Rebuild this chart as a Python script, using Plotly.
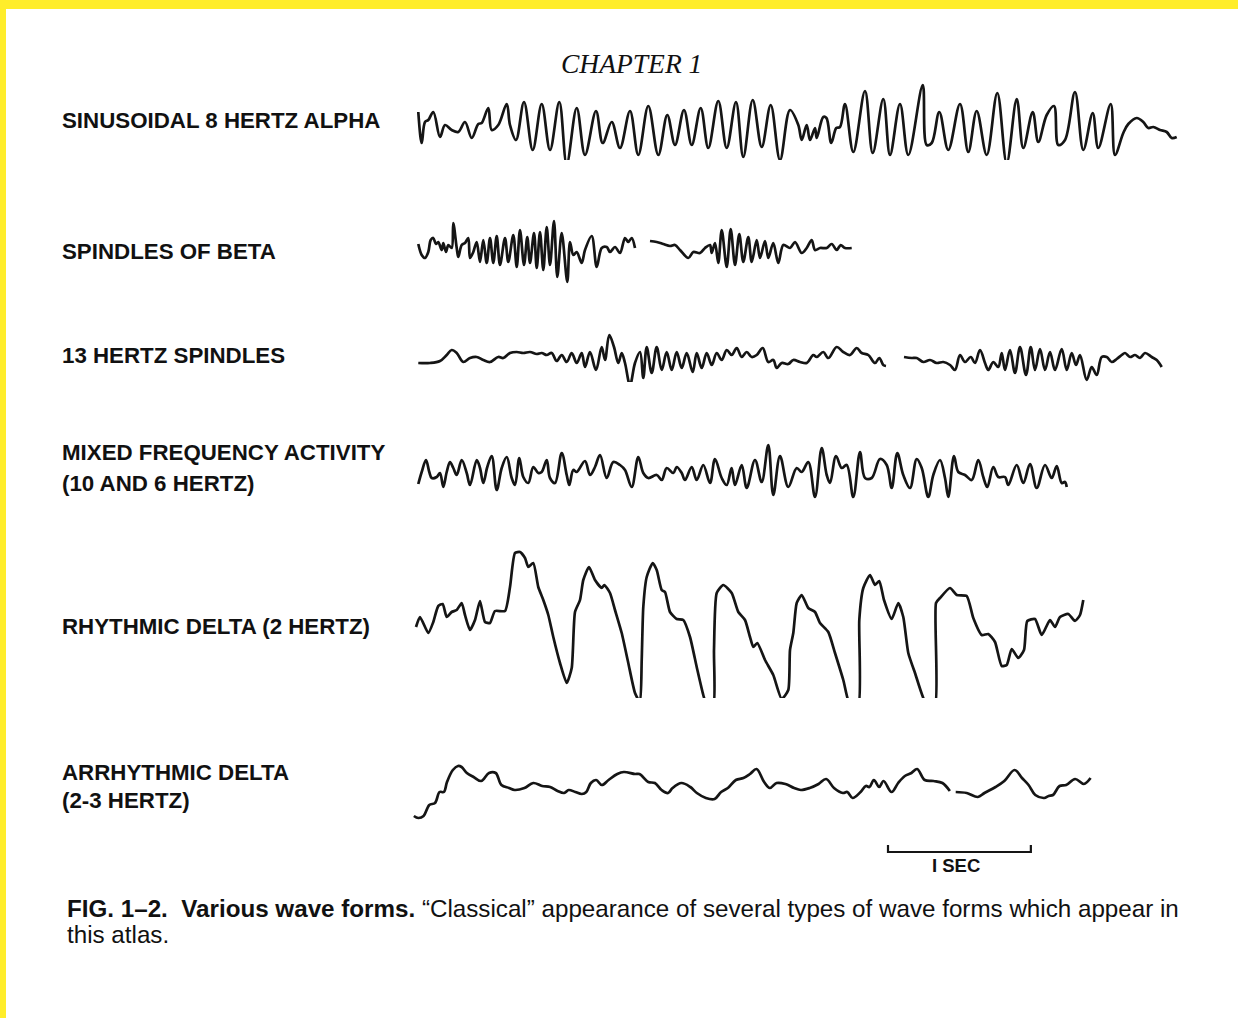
import plotly.graph_objects as go

# ---------------- data (time in ms from trace start, amplitude in arbitrary units, up = positive) -------------
alpha_t = [2, 26, 49, 72, 107, 154, 189, 236, 282, 329, 376, 422, 446, 492, 516, 562, 621, 644, 686, 742,
           803, 866, 924, 989, 1041, 1111, 1169, 1246, 1293, 1356, 1414, 1484, 1542, 1612, 1682, 1745, 1799,
           1862, 1916, 1979, 2032, 2102, 2161, 2226, 2277, 2343, 2406, 2469, 2534, 2604, 2662, 2686, 2721,
           2744, 2779, 2791, 2837, 2859, 2893, 2928, 2954, 2989, 3047, 3129, 3183, 3257, 3304, 3374, 3432,
           3533, 3561, 3596, 3649, 3712, 3794, 3852, 3911, 3981, 4055, 4121, 4191, 4237, 4303, 4342, 4401,
           4452, 4482, 4529, 4599, 4657, 4723, 4762, 4849, 4879, 4937, 4972, 5031, 5077, 5112, 5147, 5194,
           5241, 5276, 5311]
alpha_v = [16, -15, 6, 8, 16, -9, 3, -2, -4, 6, -10, 4, 5, 20, -2, 3, 24, 3, -12, 26,
           -22, 24, -22, 26, -36, 20, -27, 17, -15, 6, -20, 17, -27, 22, -27, 13, -17,
           18, -17, 20, -20, 27, -20, 26, -29, 28, -19, 23, -32, 18, 3, -12, 3,
           -12, 0, -10, 11, 10, -15, 0, 1, 24, -24, 37, -25, 29, -27, 24, -27,
           43, -17, -15, 16, -22, 24, -24, 17, -27, 35, -35, 29, -20, 16, -14, 13,
           22, -17, -12, 36, -22, 15, -20, 24, -27, -5, 4, 10, 6, 0, 1, -2,
           -4, -10, -9]

beta_t = [2, 26, 49, 72, 89, 107, 126, 142, 166, 177, 196, 212, 236, 247, 271, 282, 306, 329, 352, 364,
          387, 411, 434, 457, 481, 504, 527, 551, 574, 609, 632, 667, 691, 714, 742, 765, 784, 812, 831,
          854, 877, 901, 924, 952, 975, 1006, 1045, 1064, 1087, 1111, 1146, 1169, 1216, 1251, 1286, 1321,
          1344, 1379, 1414, 1449, 1472, 1496, 1519, None,
          1624, 1671, 1717, 1764, 1799, 1834, 1892, 1927, 1974, 2009, 2044, 2056, 2079, 2102, 2126, 2161,
          2189, 2219, 2249, 2277, 2312, 2336, 2371, 2394, 2429, 2452, 2487, 2522, 2557, 2604, 2639, 2686,
          2721, 2756, 2779, 2814, 2861, 2896, 2931, 2959, 2989, 3036]
beta_v = [6, -5, -8, -2, 10, 12, 6, 8, 0, 7, -2, 5, 2, 27, 2, -7, 5, 7, 12, -8,
          -2, 8, -12, 10, -13, 12, -13, 14, -15, 12, -12, 15, -17, 20, -15, 13, -13, 17, -18,
          18, -20, 23, -15, 29, -27, 17, -32, 8, -5, -2, -13, 0, 14, -17, 2, 3,
          -2, 3, -3, 12, 8, 12, 2, None,
          9, 8, 6, 4, 5, 0, -8, -2, -3, 2, 5, -3, 7, -13, 20, -17,
          21, -15, 16, -12, 13, -12, 10, -8, 9, -8, 7, -13, 5, 2, 8, -3,
          2, 10, 0, 2, 2, 6, 0, 5, 2, 2]

spin13_t = [2, 84, 154, 201, 236, 271, 317, 364, 411, 457, 504, 562, 597, 644, 691, 737, 784, 831, 866,
            901, 936, 971, 1006, 1041, 1076, 1111, 1146, 1169, 1204, 1246, 1286, 1309, 1339, 1372, 1402,
            1426, 1449, 1484, 1519, 1554, 1577, 1601, 1636, 1671, 1706, 1741, 1776, 1811, 1846, 1881, 1923,
            1951, 1986, 2021, 2056, 2091, 2126, 2161, 2196, 2231, 2266, 2301, 2336, 2371, 2413, 2452, 2487,
            2511, 2546, 2592, 2627, 2674, 2721, 2767, 2791, 2837, 2872, 2931, 2977, 3024, 3071, 3106, 3152,
            3199, 3229, 3257, 3276, None,
            3402, 3456, 3491, 3537, 3584, 3631, 3677, 3724, 3759, 3794, 3829, 3869, 3899, 3934, 3969, 3992,
            4027, 4062, 4086, 4109, 4144, 4179, 4214, 4256, 4289, 4319, 4354, 4389, 4424, 4459, 4506, 4541,
            4576, 4606, 4634, 4681, 4716, 4751, 4786, 4821, 4856, 4891, 4926, 4949, 4984, 5019, 5054, 5089,
            5136, 5171, 5206]
spin13_v = [-3, -3, -1, 5, 10, 7, -2, 2, 3, 0, -2, 3, 2, 7, 8, 7, 8, 6, 7,
            5, 7, -1, 5, -2, 7, -3, 7, -7, 8, -10, 13, 0, 25, 13, -3,
            7, -3, -25, -3, 8, -18, 13, -13, 13, -10, 8, -10, 8, -8, 7, -12,
            7, -8, 7, -5, 7, 0, 10, 5, 12, 3, 8, 3, 5, 12, -2, 0,
            -8, -3, -4, 0, -2, -3, 5, 3, 8, 2, 13, 8, 5, 12, 7, 5,
            -3, 2, -5, -6, None,
            3, 2, 2, -2, 0, -3, -2, -5, -10, 5, -2, 3, -3, 10, -3, -10,
            -2, -7, 7, -10, 10, -13, 13, -15, 13, -10, 11, -10, 8, -10, 11, -10,
            7, -5, 5, -20, -7, -15, 3, 3, -2, 1, 5, 7, 3, 5, 2, 7,
            3, 0, -7]

mixed_t = [2, 26, 56, 79, 96, 131, 154, 177, 201, 224, 247, 271, 306, 341, 364, 411, 434, 457, 485, 516,
           551, 586, 621, 656, 679, 709, 737, 772, 807, 842, 866, 901, 924, 959, 1006, 1041, 1059, 1087,
           1111, 1169, 1204, 1239, 1274, 1321, 1367, 1414, 1449, 1496, 1542, 1577, 1612, 1671, 1706, 1741,
           1787, 1811, 1846, 1869, 1916, 1951, 1997, 2044, 2079, 2126, 2161, 2195, 2219, 2266, 2301, 2359,
           2406, 2452, 2487, 2534, 2592, 2651, 2686, 2732, 2779, 2826, 2861, 2884, 2926, 2966, 3001, 3047,
           3094, 3129, 3176, 3234, 3281, 3316, 3355, 3397, 3444, 3491, 3526, 3572, 3607, 3654, 3689, 3712,
           3752, 3782, 3829, 3876, 3922, 3957, 3985, 4027, 4062, 4109, 4132, 4191, 4237, 4284, 4331, 4389,
           4436, 4471, 4506, 4529, 4541]
mixed_v = [-12, 0, 12, 0, -6, -5, -1, -15, 0, 10, 4, -3, 12, -1, -13, 12, 4, -11, 5, 16,
           -18, 4, 15, -6, -13, 14, -5, -11, 5, -1, 0, 12, -6, -11, 19, -3, -13, 2,
           0, 11, -3, 5, 17, -6, 10, 7, 2, -15, 15, -1, -6, -3, -8, 4,
           -1, 5, -1, -8, 5, -8, 7, -11, 13, -6, -13, 4, -13, 7, -16, 12,
           -10, 27, -23, 16, -15, 4, 0, 10, -25, 24, -3, -11, 16, 4, 7, -25,
           20, -6, -6, 13, 7, -16, 19, -3, -16, 13, 4, -25, -3, 12, -6, -25,
           16, 0, -3, -8, 12, -5, -15, 5, -5, -5, -13, 7, -11, 8, -16, 7,
           -6, 6, -11, -10, -15]

rdelta_t = [-14, 14, 72, 107, 142, 173, 201, 236, 271, 306, 329, 364, 399, 434, 469, 504, 539, 609, 644, 679,
            714, 749, 772, 807, 842, 877, 912, 947, 994, 1041, 1076, 1099, 1134, 1157, 1197, 1239, 1286,
            1304, 1344, 1379, 1426, 1472, 1519, 1554, 1566, 1577, 1601, 1643, 1671, 1706, 1729, 1764, 1811,
            1857, 1904, 1951, 1997, 2021, 2067, 2072, 2091, 2137, 2196, 2242, 2289, 2324, 2347, 2375, 2429,
            2487, 2546, 2592, 2604, 2627, 2651, 2686, 2732, 2779, 2814, 2872, 2919, 2977, 3024, 3082, 3089,
            3117, 3164, 3199, 3229, 3262, 3316, 3362, 3397, 3432, 3479, 3561, 3619, 3626, 3654, 3724, 3771,
            3841, 3887, 3946, 3992, 4039, 4086, 4121, 4156, 4202, 4242, 4265, 4319, 4366, 4424, 4459, 4494,
            4552, 4599, 4634, 4657]
rdelta_v = [1, 11, -5, 6, 22, 24, 11, 16, 18, 25, 13, -2, 8, 27, 6, 5, 17, 17, 41, 75,
            76, 70, 61, 65, 41, 28, 13, -9, -35, -55, -40, 16, 28, 48, 61, 48, 40,
            43, 35, 18, -5, -35, -65, -74, -32, 21, 51, 65, 58, 38, 36, 16, 9,
            8, -9, -39, -67, -77, -77, -22, 35, 43, 35, 16, 8, -9, -19, -15, -32,
            -47, -71, -62, -22, -5, 25, 33, 20, 16, 5, -4, -25, -52, -77, -77, 8,
            40, 53, 43, 47, 28, 9, 25, 11, -25, -45, -77, -77, 25, 30, 40, 33,
            32, 10, -7, -6, -14, -38, -37, -21, -30, -22, 7, 9, -7, 8, 1, 11,
            14, 7, 13, 28]

adelta_t = [-29, 2, 39, 79, 119, 151, 181, 203, 244, 280, 305, 342, 389, 442, 497, 544, 584, 637, 677, 745,
            807, 869, 925, 977, 1023, 1055, 1101, 1147, 1178, 1210, 1247, 1287, 1334, 1395, 1441, 1519, 1550,
            1612, 1658, 1705, 1751, 1782, 1844, 1906, 1952, 2015, 2076, 2122, 2169, 2225, 2278, 2324, 2370,
            2423, 2463, 2510, 2572, 2633, 2680, 2742, 2804, 2857, 2912, 2974, 3005, 3042, 3098, 3135, 3160,
            3191, 3228, 3259, 3315, 3361, 3408, 3454, 3494, 3547, 3609, 3671, 3723, None,
            3764, 3841, 3919, 3965, 4043, 4104, 4176, 4228, 4274, 4321, 4383, 4414, 4445, 4491, 4537, 4600,
            4661, 4708]
adelta_v = [-28, -30, -28, -17, -15, -4, -4, 6, 18, 22, 21, 15, 11, 7, 15, 15, 3, 0, -2, 0,
            5, 2, 1, -3, -5, -2, -4, -6, -4, 5, 8, 3, 8, 14, 16, 14, 14,
            6, 5, -2, -5, 0, 5, 1, -5, -10, -11, -4, 0, 8, 10, 14, 19,
            6, 0, 5, 4, 0, -2, 0, 4, 9, 0, -5, -4, -10, -4, 2, 1,
            8, 1, 7, -4, 5, 12, 15, 19, 8, 7, 5, -3, None,
            -4, -5, -9, -5, 1, 7, 18, 10, 3, -7, -10, -8, -7, 2, 3, 9,
            4, 10]

# 1-second calibration bar
scale_t = [3290, 3290, 4290, 4290]
scale_v = [-57, -64, -64, -57]

row_labels = [
    ["SINUSOIDAL 8 HERTZ ALPHA"],
    ["SPINDLES OF BETA"],
    ["13 HERTZ SPINDLES"],
    ["MIXED FREQUENCY ACTIVITY", "(10 AND 6 HERTZ)"],
    ["RHYTHMIC DELTA (2 HERTZ)"],
    ["ARRHYTHMIC DELTA", "(2-3 HERTZ)"],
]

# ---------------- layout geometry ----------------
W, H = 1238, 1018
MS_PER_PX = 7.0
T0_PX = 418            # pixel column where t = 0
HALF = 90              # half height of each row (units == px)
row_base_px = [128, 250, 360, 472, 628, 788]
label_y_px = [[120], [251], [355], [452, 483], [626], [772, 800]]


def fx(x):
    return x / W


def fy(y):
    return 1 - y / H


series = [(alpha_t, alpha_v, 1.0), (beta_t, beta_v, 0.9), (spin13_t, spin13_v, 1.0),
          (mixed_t, mixed_v, 1.0), (rdelta_t, rdelta_v, 0.55), (adelta_t, adelta_v, 1.0)]

fig = go.Figure()
ink = '#151515'
for i, (t, v, sm) in enumerate(series):
    yname = 'y' if i == 0 else f'y{i + 1}'
    fig.add_trace(go.Scatter(x=t, y=v, mode='lines',
                             line=dict(color=ink, width=2.7, shape='spline', smoothing=sm),
                             xaxis='x', yaxis=yname, connectgaps=False, hoverinfo='skip', showlegend=False))

fig.add_trace(go.Scatter(x=scale_t, y=scale_v, mode='lines', line=dict(color=ink, width=2.2),
                         xaxis='x', yaxis='y6', hoverinfo='skip', showlegend=False))

layout = dict(
    width=W, height=H, margin=dict(l=0, r=0, t=0, b=0, pad=0),
    paper_bgcolor='white', plot_bgcolor='white', showlegend=False,
    xaxis=dict(domain=[0, 1], range=[-T0_PX * MS_PER_PX, (W - T0_PX) * MS_PER_PX], visible=False,
               fixedrange=True),
)
for i, base in enumerate(row_base_px):
    key = 'yaxis' if i == 0 else f'yaxis{i + 1}'
    layout[key] = dict(domain=[fy(base + HALF), fy(base - HALF)], range=[-HALF, HALF], visible=False,
                       anchor='x', fixedrange=True)
fig.update_layout(**layout)

annotations = []
lab_font = dict(family='Liberation Sans, Arial, sans-serif', size=22.3, color='#111')
for lines, ys in zip(row_labels, label_y_px):
    for txt, y in zip(lines, ys):
        annotations.append(dict(x=fx(60), y=fy(y), xref='paper', yref='paper', text=f'<b>{txt}</b>',
                                showarrow=False, xanchor='left', yanchor='middle', font=lab_font))

annotations.append(dict(x=fx(631), y=fy(63), xref='paper', yref='paper', text='<i>CHAPTER 1</i>',
                        showarrow=False, xanchor='center', yanchor='middle',
                        font=dict(family='Liberation Serif, Times New Roman, serif', size=27.5, color='#111')))
annotations.append(dict(x=fx(956), y=fy(865), xref='paper', yref='paper', text='<b>I SEC</b>',
                        showarrow=False, xanchor='center', yanchor='middle',
                        font=dict(family='Liberation Sans, Arial, sans-serif', size=18.5, color='#111')))
cap_font = dict(family='Liberation Sans, Arial, sans-serif', size=24.2, color='#111')
annotations.append(dict(x=fx(65), y=fy(908), xref='paper', yref='paper',
                        text='<b>FIG. 1–2.  Various wave forms.</b> “Classical” appearance of several types '
                             'of wave forms which appear in',
                        showarrow=False, xanchor='left', yanchor='middle', font=cap_font))
annotations.append(dict(x=fx(65), y=fy(934), xref='paper', yref='paper', text='this atlas.',
                        showarrow=False, xanchor='left', yanchor='middle', font=cap_font))
fig.update_layout(annotations=annotations)

# yellow scan border (top and left)
fig.update_layout(shapes=[
    dict(type='rect', xref='paper', yref='paper', x0=0, x1=1, y0=fy(9), y1=1, fillcolor='#FFED2A',
         line=dict(width=0), layer='above'),
    dict(type='rect', xref='paper', yref='paper', x0=0, x1=fx(6), y0=0, y1=1, fillcolor='#FFED2A',
         line=dict(width=0), layer='above'),
])

fig.write_html('out.html', config={'displayModeBar': False, 'staticPlot': True},
               post_script="document.body.style.margin='0px';document.body.style.padding='0px';")
